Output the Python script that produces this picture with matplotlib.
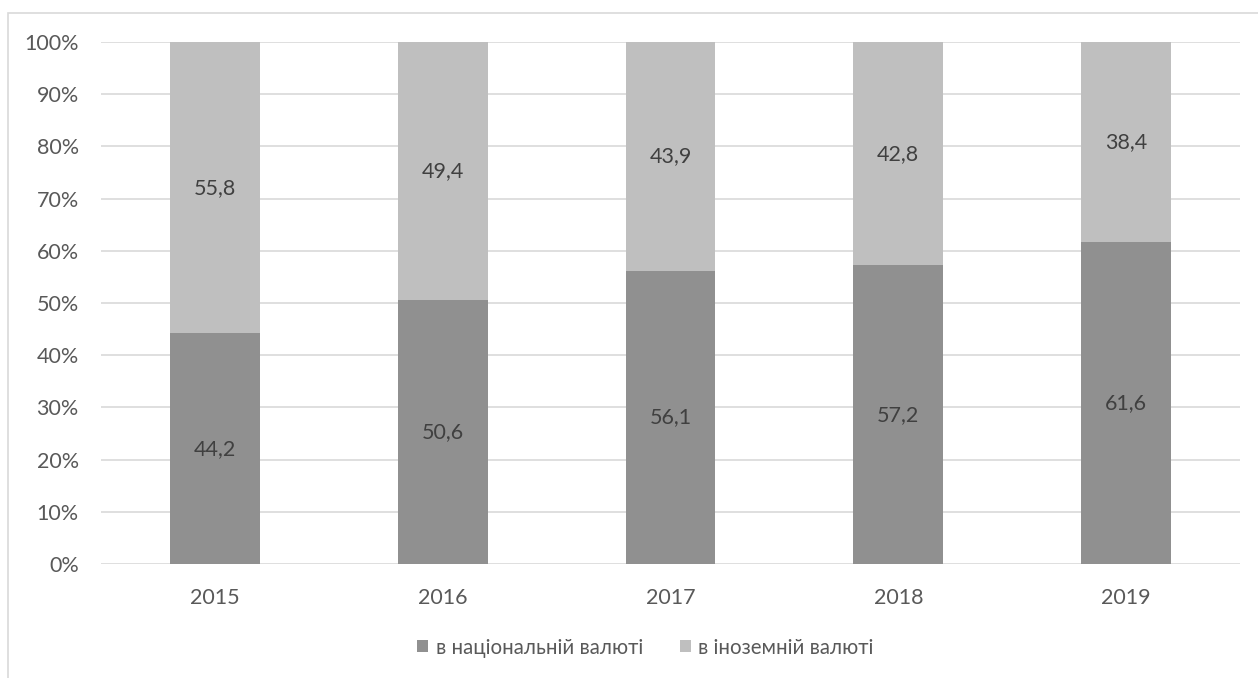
import matplotlib
matplotlib.use('Agg')
import matplotlib.pyplot as plt
import numpy as np
from matplotlib.patches import Rectangle
from matplotlib.ticker import PercentFormatter

plt.rcParams['font.family'] = ['Lato', 'Noto Sans', 'DejaVu Sans']

years = ['2015', '2016', '2017', '2018', '2019']
national = [44.2, 50.6, 56.1, 57.2, 61.6]
foreign = [55.8, 49.4, 43.9, 42.8, 38.4]
series_names = ['в національній валюті', 'в іноземній валюті']

dark = '#909090'
light = '#bfbfbf'
grid_col = '#d9d9d9'
text_col = '#595959'
label_col = '#404040'
fs = 15.5

fig = plt.figure(figsize=(12.58, 6.78), dpi=100)
# chart frame (runs off the right and bottom edges)
fig.patches.append(Rectangle((8 / 1258, -0.05), 1.1, 1 - 13 / 678 + 0.05,
                             transform=fig.transFigure, fill=False,
                             edgecolor=grid_col, lw=1.2))

ax = fig.add_axes([101 / 1258, 1 - 564 / 678, 1139 / 1258, 522 / 678])

x = np.arange(len(years))
nat = np.array(national)
forg = np.array(foreign)
total = nat + forg
nat_pct = nat / total * 100
for_pct = forg / total * 100

w = 0.395
ax.bar(x, nat_pct, w, color=dark, label=series_names[0], zorder=3)
ax.bar(x, for_pct, w, bottom=nat_pct, color=light, label=series_names[1], zorder=3)

for i in range(len(years)):
    ax.text(x[i], nat_pct[i] / 2, f'{national[i]:.1f}'.replace('.', ','),
            ha='center', va='center', fontsize=fs, color=label_col, zorder=4)
    ax.text(x[i], nat_pct[i] + for_pct[i] / 2, f'{foreign[i]:.1f}'.replace('.', ','),
            ha='center', va='center', fontsize=fs, color=label_col, zorder=4)

ax.set_xlim(-0.5, len(years) - 0.5)
ax.set_ylim(0, 100)
ax.set_yticks(np.arange(0, 101, 10))
ax.yaxis.set_major_formatter(PercentFormatter(decimals=0))
ax.set_xticks(x)
ax.set_xticklabels(years)
ax.tick_params(length=0, labelsize=fs, labelcolor=text_col)
ax.tick_params(axis='y', pad=16)
ax.tick_params(axis='x', pad=17)
ax.grid(axis='y', color=grid_col, lw=1.2, zorder=0)
for s in ax.spines.values():
    s.set_visible(False)

leg = ax.legend(loc='center', bbox_to_anchor=(0.478, -0.16), ncol=2, frameon=False,
                fontsize=14.8, labelcolor=text_col, handlelength=0.55, handleheight=0.55,
                handletextpad=0.35, columnspacing=1.8)

fig.savefig('out.png', dpi=100)
